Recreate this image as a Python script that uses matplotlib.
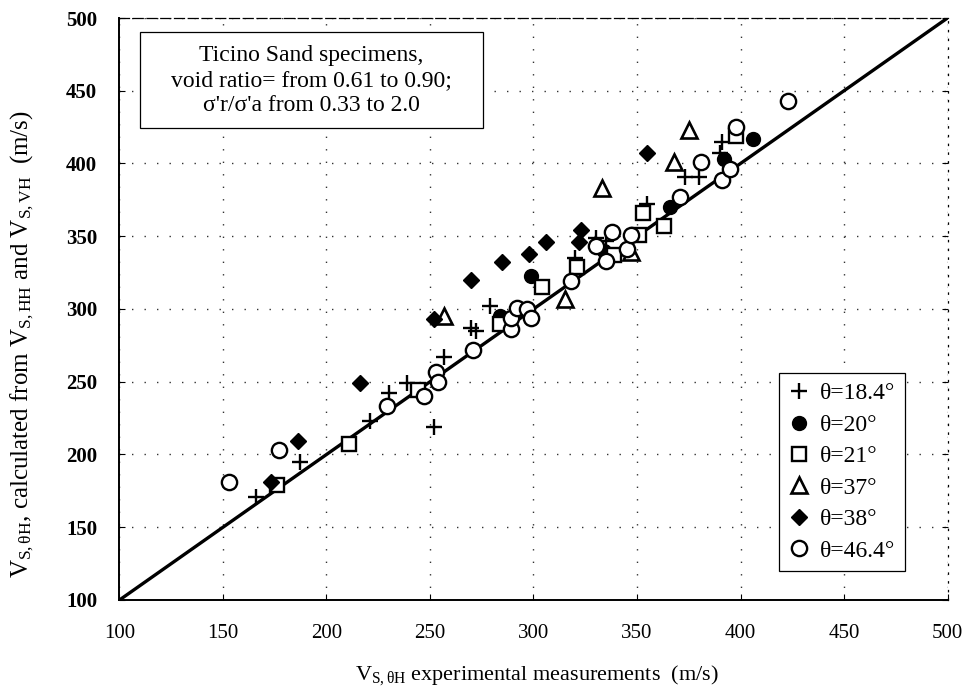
import matplotlib
matplotlib.use("Agg")
import matplotlib.pyplot as plt
from matplotlib.patches import Rectangle
import numpy as np

plt.rcParams['font.family'] = ['Liberation Serif', 'DejaVu Serif']
plt.rcParams['mathtext.fontset'] = 'custom'
plt.rcParams['mathtext.rm'] = 'Liberation Serif'
plt.rcParams['mathtext.it'] = 'Liberation Serif:italic'

# theta = 18.4 deg (+)
x_184 = [166, 187, 221, 230, 239, 252, 257, 270, 272, 279, 320, 330, 335, 355, 373, 380, 390, 391]
y_184 = [171, 195, 223, 242, 249, 219, 267, 287, 285, 302, 335, 349, 347, 372, 391, 391, 407, 415]

# theta = 20 deg (filled circle)
x_20 = [284, 299, 334, 366, 392, 406]
y_20 = [295, 323, 340, 370, 403, 417]

# theta = 21 deg (open square)
x_21 = [176, 211, 244, 284, 304, 321, 339, 351, 353, 363, 398]
y_21 = [179, 207, 244, 290, 315, 329, 337, 351, 366, 357, 419]

# theta = 37 deg (open triangle)
x_37 = [257, 315, 333, 347, 368, 375]
y_37 = [295, 307, 383, 339, 401, 423]

# theta = 38 deg (filled diamond)
x_38 = [173, 186, 216, 252, 270, 285, 298, 306, 322, 323, 355]
y_38 = [181, 209, 249, 293, 320, 332, 338, 346, 346, 354, 407]

# theta = 46.4 deg (open circle)
x_464 = [153, 177, 229, 247, 253, 254, 271, 289, 289, 292, 297, 299, 318, 330, 335,
         338, 345, 347, 371, 381, 391, 395, 398, 423]
y_464 = [181, 203, 233, 240, 257, 250, 272, 286, 294, 301, 300, 294, 319, 343, 333,
         353, 341, 351, 377, 401, 389, 396, 425, 443]

ticks = [100, 150, 200, 250, 300, 350, 400, 450, 500]

fig = plt.figure(figsize=(9.73, 6.95), dpi=100)
ax = fig.add_axes([0.1228, 0.1367, 0.851, 0.8374])

ax.plot([100, 500], [100, 500], color='k', lw=2.4, zorder=2)

ax.plot(x_184, y_184, ls='none', marker='+', ms=12, mew=1.7, color='k', label='θ=18.4°', zorder=3)
ax.plot(x_20, y_20, ls='none', marker='o', ms=10, color='k', label='θ=20°', zorder=3)
ax.plot(x_21, y_21, ls='none', marker='s', ms=10, mfc='white', mec='k', mew=1.7, label='θ=21°', zorder=3)
ax.plot(x_37, y_37, ls='none', marker='^', ms=11, mfc='white', mec='k', mew=1.9, label='θ=37°', zorder=3)
ax.plot(x_38, y_38, ls='none', marker='D', ms=8.5, color='k', label='θ=38°', zorder=3)
ax.plot(x_464, y_464, ls='none', marker='o', ms=11, mfc='white', mec='k', mew=1.7, label='θ=46.4°', zorder=3)

ax.set_xlim(100, 500)
ax.set_ylim(100, 500)
ax.set_xticks(ticks)
ax.set_yticks(ticks)
ax.set_xticklabels([str(t) for t in ticks], fontsize=15)
ax.set_yticklabels([str(t) for t in ticks], fontsize=15, fontweight='bold')
ax.tick_params(direction='in', length=4, width=0.8, right=True)
ax.tick_params(axis='y', pad=16)
ax.tick_params(axis='x', pad=17)

ax.grid(True, linestyle=(0, (1, 8)), color='#333333', lw=1.0)

for side in ['left', 'bottom']:
    ax.spines[side].set_linewidth(1.4)
ax.spines['top'].set_linewidth(0.9)
ax.spines['top'].set_linestyle((0, (8, 3)))
ax.spines['right'].set_linewidth(0.9)
ax.spines['right'].set_linestyle((0, (1, 6)))

ax.set_xlabel('V$_{\\mathregular{S,θH}}$ experimental measurements  (m/s)', fontsize=16)
ax.xaxis.set_label_coords(0.504, -0.108)
ax.set_ylabel('V$_{\\mathregular{S,θH}}$, calculated from V$_{\\mathregular{S,HH}}$ and V$_{\\mathregular{S,VH}}$  (m/s)',
              fontsize=18)
ax.yaxis.set_label_coords(-0.101, 0.44)

# info box
ax.add_patch(Rectangle((0.0248, 0.811), 0.414, 0.165, transform=ax.transAxes,
                       fc='white', ec='k', lw=0.9, zorder=5))
ax.text(0.232, 0.893, "Ticino Sand specimens,\nvoid ratio= from 0.61 to 0.90;\nσ'r/σ'a from 0.33 to 2.0",
        transform=ax.transAxes, ha='center', va='center', fontsize=17, linespacing=1.25, zorder=6)

leg = ax.legend(loc='lower right', bbox_to_anchor=(0.9487, 0.0498), borderaxespad=0, fontsize=17,
                frameon=True, fancybox=False, edgecolor='k', handlelength=0.9, handletextpad=0.45,
                labelspacing=0.42, borderpad=0.4, numpoints=1, framealpha=1)
leg.get_frame().set_linewidth(0.9)

fig.savefig('out.png', dpi=100)
